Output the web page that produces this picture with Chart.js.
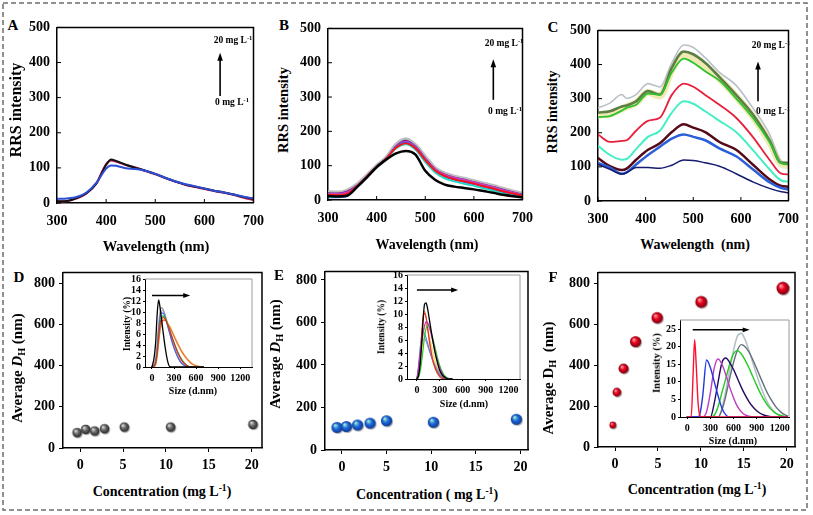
<!DOCTYPE html>
<html>
<head>
<meta charset="utf-8">
<script src="https://cdn.jsdelivr.net/npm/chart.js@4.4.1/dist/chart.umd.min.js"></script>
<style>
  body { margin: 0; background: #fff; }
  #fig { position: relative; width: 813px; height: 515px; overflow: hidden; background: #fff;
         font-family: "Liberation Serif", "Times New Roman", serif; font-weight: bold; color: #000; }
  #fig canvas { position: absolute; }
  .t { position: absolute; white-space: pre; line-height: 1; transform: translate(-50%, -50%); }
  .r { transform: translate(-50%, -50%) rotate(-90deg); }
  sup { font-size: 0.68em; line-height: 0; vertical-align: 0.55em; }
  sub { font-size: 0.68em; line-height: 0; vertical-align: -0.3em; }
  svg { position: absolute; left: 0; top: 0; }
</style>
</head>
<body>
<div id="fig">
  <svg width="813" height="515"><rect x="3" y="3" width="804" height="507" fill="none" stroke="#6c6c6c" stroke-width="1.5" stroke-dasharray="5 3"/></svg>
</div>
<script>
'use strict';

// ---------- panel A : RRS spectra ----------
let wlA = [300, 320, 340, 360, 380, 400, 410, 420, 440, 460, 480, 500, 520, 540, 560, 580, 600, 620, 640, 660, 680, 700];
let aBlack = [5, 6, 14, 28, 55, 108, 124, 120, 109, 100, 92, 83, 72, 62, 53, 47, 41, 35, 30, 24, 17, 12];
let aRed = [4, 5, 13, 27, 56, 111, 121, 118, 108, 101, 91, 82, 71, 61, 52, 46, 40, 34, 29, 23, 15, 8];
let aBlue = [12, 13, 17, 30, 57, 98, 107, 106, 99, 97, 92, 83, 72, 62, 54, 48, 41, 35, 30, 24, 18, 13];

// ---------- panel B ----------
let wlB = [300, 320, 340, 360, 380, 400, 420, 440, 460, 480, 500, 520, 540, 560, 580, 600, 620, 640, 660, 680, 700];
let bBlack = [12, 10, 13, 38, 66, 96, 118, 136, 143, 132, 85, 59, 45, 39, 35, 31, 26, 21, 15, 11, 8];
let bGray = [22, 21, 27, 44, 70, 98, 122, 160, 176, 158, 124, 92, 76, 67, 61, 54, 47, 40, 32, 24, 18];
let bPurple = [20, 19, 25, 42, 68, 97, 121, 157, 173, 156, 121, 90, 74, 65, 59, 52, 45, 38, 30, 23, 16];
let bMagenta = [18, 18, 23, 41, 68, 97, 121, 155, 170, 155, 120, 90, 74, 65, 59, 52, 45, 38, 29, 22, 15];
let bRed = [15, 14, 19, 40, 68, 97, 121, 152, 165, 150, 116, 86, 70, 60, 54, 48, 40, 33, 25, 19, 13];
let bBlue = [8, 8, 12, 38, 67, 97, 121, 153, 168, 151, 116, 85, 68, 59, 52, 46, 38, 31, 23, 17, 12];
let bCyan = [9, 9, 13, 38, 67, 96, 120, 150, 162, 146, 110, 80, 63, 54, 47, 41, 34, 27, 19, 13, 9];

// ---------- panel C ----------
let wlC = [300, 325, 350, 360, 380, 405, 430, 455, 480, 500, 525, 555, 590, 625, 660, 685, 700];
let cNavy = [107, 93, 79, 83, 98, 98, 96, 105, 120, 119, 112, 102, 80, 56, 37, 27, 24];
let cBlue = [112, 98, 80, 84, 107, 135, 159, 183, 195, 188, 178, 154, 131, 93, 55, 38, 34];
let cBrown = [126, 102, 91, 95, 121, 150, 169, 202, 225, 215, 202, 173, 150, 107, 64, 44, 42];
let cCyan = [162, 135, 121, 123, 152, 188, 206, 259, 292, 285, 263, 235, 202, 150, 93, 60, 57];
let cRed = [195, 173, 176, 178, 206, 235, 244, 311, 344, 335, 311, 282, 244, 188, 121, 80, 78];
let cGreen = [246, 249, 265, 273, 282, 315, 311, 377, 417, 405, 380, 353, 301, 244, 173, 110, 107];
let cYellow = [252, 255, 270, 276, 288, 318, 308, 384, 428, 420, 394, 358, 306, 248, 174, 108, 104];
let cOlive = [259, 263, 277, 280, 292, 322, 312, 391, 438, 430, 405, 363, 311, 254, 178, 112, 112];
let cGray = [273, 287, 312, 301, 312, 344, 334, 405, 457, 450, 420, 377, 339, 273, 197, 116, 112];

// ---------- D/E/F : average hydrodynamic diameter ----------
let dConc = [-0.3, 0.7, 1.75, 2.9, 5.2, 10.6, 20.2];
let dSize = [72, 88, 80, 91, 99, 99, 112];
let eConc = [-0.5, 0.55, 1.8, 3.2, 5.05, 10.3, 19.6];
let eSize = [104, 108, 115, 124, 135, 128, 142];
let fConc = [-0.2, 0.27, 1.05, 2.45, 4.97, 10.1, 19.6];
let fSize = [105, 266, 382, 514, 631, 709, 776];

// ---------- insets : size distributions ----------
let sizeD = [0, 30, 50, 70, 90, 110, 130, 150, 180, 210, 240, 280, 320, 360, 400, 450, 500, 550, 600, 650, 700];
let dBlack = [0, 1.8, 4.5, 9.5, 12.2, 10.8, 8.7, 6.5, 3.5, 1.2, 0.1, 0, 0, 0, 0, 0, 0, 0, 0, 0, 0];
let dGray = [0, 0.5, 1.5, 4, 7.5, 10, 10.8, 10.5, 9.3, 7.8, 6.3, 4.4, 2.8, 1.6, 0.7, 0.2, 0, 0, 0, 0, 0];
let dLav = [0, 0.4, 1.2, 3.5, 6.8, 9.3, 10.2, 10.3, 9.4, 8, 6.5, 4.6, 3, 1.8, 0.9, 0.3, 0, 0, 0, 0, 0];
let dBlue = [0, 0.3, 1, 3, 6.5, 9, 9.8, 9.8, 9, 7.6, 6.1, 4.2, 2.7, 1.5, 0.7, 0.2, 0, 0, 0, 0, 0];
let dGreen = [0, 0.2, 0.8, 2.5, 5.5, 8, 9, 9.3, 8.9, 7.9, 6.8, 5.2, 3.8, 2.5, 1.5, 0.6, 0.1, 0, 0, 0, 0];
let dRed = [0, 0.2, 0.8, 2.5, 5.3, 7.8, 8.7, 9, 8.7, 7.8, 6.7, 5.1, 3.6, 2.3, 1.3, 0.5, 0.1, 0, 0, 0, 0];
let dOrange = [0, 0.1, 0.5, 2, 4.5, 6.8, 8, 8.5, 8.5, 8, 7.3, 6.2, 5, 3.9, 2.9, 1.9, 1.1, 0.5, 0.2, 0.05, 0];
let dYellow = [0, 0.1, 0.6, 2.2, 4.8, 7, 8.2, 8.7, 8.6, 8.1, 7.4, 6.3, 5.1, 4, 3, 2, 1.2, 0.6, 0.25, 0.05, 0];

let sizeE = [0, 20, 40, 60, 80, 100, 120, 140, 160, 180, 200, 230, 260, 300, 340, 380, 420, 460];
let eBlack = [0, 0.5, 2, 5, 9, 11.5, 11.7, 10.8, 9.4, 7.9, 6.5, 4.5, 2.9, 1.3, 0.5, 0.15, 0, 0];
let eOrange = [0, 1, 3, 6.5, 9.6, 10.4, 9.6, 8, 6.2, 4.6, 3.3, 1.9, 1, 0.3, 0, 0, 0, 0];
let eRed = [0, 0.8, 2.8, 6, 9, 10.1, 9.4, 7.8, 6.1, 4.6, 3.3, 2, 1.1, 0.4, 0.05, 0, 0, 0];
let eMagenta = [0, 1.5, 3.5, 5.5, 7, 8.2, 8.8, 8.7, 8.1, 7.2, 6.2, 4.7, 3.2, 1.7, 0.7, 0.2, 0, 0];
let eGreen = [0, 0.2, 1, 2.5, 4.5, 6.5, 7.8, 8.2, 8, 7.4, 6.6, 5.2, 3.7, 2, 0.9, 0.3, 0.05, 0];
let eBlue = [0, 2, 4.5, 6.5, 7.2, 7, 6.3, 5.5, 4.6, 3.8, 3, 2.1, 1.4, 0.6, 0.2, 0, 0, 0];
let eGray = [0, 1.5, 3.5, 5.2, 6, 6.2, 5.8, 5.1, 4.4, 3.8, 3.2, 2.4, 1.7, 0.9, 0.3, 0.05, 0, 0];
let eYellow = [0, 0.5, 1.8, 4, 6.5, 8, 8.3, 7.6, 6.6, 5.5, 4.5, 3.1, 2, 0.9, 0.3, 0.05, 0, 0];

let sizeF = [0, 50, 75, 95, 115, 140, 165, 200, 250, 300, 350, 400, 450, 500, 550, 600, 650, 700, 750, 800, 850, 900, 950, 1000, 1050, 1100, 1150, 1200, 1250, 1300];
let fRed = [0, 0, 12, 22, 15, 4, 0.3, 0, 0, 0, 0, 0, 0, 0, 0, 0, 0, 0, 0, 0, 0, 0, 0, 0, 0, 0, 0, 0, 0, 0];
let fBlue = [0, 0, 0, 0, 0, 0, 1, 6, 16.2, 14, 10, 6, 2.5, 0.6, 0, 0, 0, 0, 0, 0, 0, 0, 0, 0, 0, 0, 0, 0, 0, 0];
let fMagenta = [0, 0, 0, 0, 0, 0, 0, 0, 1.5, 7, 14, 16.5, 15, 12, 8.5, 5.5, 3, 1.5, 0.6, 0.2, 0, 0, 0, 0, 0, 0, 0, 0, 0, 0];
let fPurple = [0, 0, 0, 0, 0, 0, 0, 0, 0, 0, 4, 10, 15.5, 16.8, 15.5, 13.5, 11, 8.5, 6.3, 4.4, 2.9, 1.8, 1, 0.5, 0.2, 0.05, 0, 0, 0, 0];
let fGreen = [0, 0, 0, 0, 0, 0, 0, 0, 0, 0, 0.5, 3, 7, 11, 15, 18, 18.9, 18, 16.2, 14, 11.5, 9, 6.7, 4.7, 3.1, 1.9, 1, 0.5, 0.2, 0.05];
let fDarkGray = [0, 0, 0, 0, 0, 0, 0, 0, 0, 0, 0, 0, 2, 6, 11, 15.5, 19, 20.6, 20, 18.5, 16.3, 13.8, 11.2, 8.7, 6.4, 4.5, 2.9, 1.7, 0.8, 0.3];
let fLightGray = [0, 0, 0, 0, 0, 0, 0, 0, 0, 0, 0, 0, 2.5, 7.5, 13.5, 19, 23, 23.8, 22, 19, 15.5, 12, 8.8, 6, 3.8, 2.2, 1.1, 0.5, 0.15, 0];

// tick values
let wlTicks = [300, 400, 500, 600, 700];
let rrsTicks = [0, 100, 200, 300, 400, 500];
let concTicks = [0, 5, 10, 15, 20];
let dhTicks = [0, 200, 400, 600, 800];
let insetXTicks = [0, 300, 600, 900, 1200];
let insetYTicks = [0, 2, 4, 6, 8, 10, 12, 14, 16];
let insetFTicks = [0, 5, 10, 15, 20, 25];

const FONT = 'Liberation Serif';
Chart.defaults.font.family = FONT;
Chart.defaults.font.weight = 'bold';
Chart.defaults.color = '#000';

let fig = document.getElementById('fig');

function makeCanvas(area, pad) {
  let c = document.createElement('canvas');
  let w = area.r - area.l + pad.l + pad.r;
  let h = area.b - area.t + pad.t + pad.b;
  c.width = w;
  c.height = h;
  c.style.left = (area.l - pad.l) + 'px';
  c.style.top = (area.t - pad.t) + 'px';
  c.style.width = w + 'px';
  c.style.height = h + 'px';
  fig.appendChild(c);
  return c;
}

function pts(xs, ys) {
  return xs.map((x, i) => ({ x: x, y: ys[i] }));
}

function curve(xs, ys, color, width) {
  return { data: pts(xs, ys), borderColor: color, borderWidth: width, pointRadius: 0,
           fill: false, cubicInterpolationMode: 'monotone' };
}

function axis(min, max, ticks, o) {
  return {
    type: 'linear', min: min, max: max,
    afterBuildTicks: s => { s.ticks = ticks.map(v => ({ value: v })); },
    afterFit: s => { if (s.isHorizontal()) s.height = o.size; else s.width = o.size; },
    ticks: { autoSkip: false, maxRotation: 0, padding: o.pad, color: '#000',
             font: { family: FONT, size: o.font, weight: 'bold' }, callback: v => String(v) },
    grid: { display: true, drawOnChartArea: false, drawTicks: o.tick > 0, tickLength: o.tick, color: '#000', lineWidth: 1 },
    border: { display: true, color: '#000', width: o.bw }
  };
}

// frame (top/right), inside ticks, white fill and arrow annotation
let framePlugin = {
  id: 'frame',
  beforeDraw(chart, args, o) {
    let a = chart.chartArea, ctx = chart.ctx;
    if (o.fill) {
      ctx.save();
      ctx.fillStyle = o.fill;
      ctx.fillRect(a.left, a.top, a.right - a.left, a.bottom - a.top);
      ctx.restore();
    }
  },
  afterDraw(chart, args, o) {
    let a = chart.chartArea, ctx = chart.ctx;
    ctx.save();
    ctx.strokeStyle = o.color;
    ctx.lineWidth = o.width;
    ctx.beginPath();
    ctx.moveTo(a.left, a.top);
    ctx.lineTo(a.right, a.top);
    ctx.lineTo(a.right, a.bottom);
    ctx.stroke();
    if (o.inTicks) {
      let xs = chart.scales.x, ys = chart.scales.y;
      ctx.strokeStyle = '#000';
      ctx.lineWidth = 1;
      ctx.beginPath();
      xs.ticks.forEach(t => { let x = xs.getPixelForValue(t.value); ctx.moveTo(x, a.bottom); ctx.lineTo(x, a.bottom - o.inTicks); });
      ys.ticks.forEach(t => { let y = ys.getPixelForValue(t.value); ctx.moveTo(a.left, y); ctx.lineTo(a.left + o.inTicks, y); });
      ctx.stroke();
    }
    if (o.arrow) {
      let ar = o.arrow, xs = chart.scales.x, ys = chart.scales.y;
      let x1 = xs.getPixelForValue(ar.x1), y1 = ys.getPixelForValue(ar.y1);
      let x2 = xs.getPixelForValue(ar.x2), y2 = ys.getPixelForValue(ar.y2);
      let ang = Math.atan2(y2 - y1, x2 - x1), h = ar.head, cs = Math.cos(ang), sn = Math.sin(ang);
      ctx.strokeStyle = '#000';
      ctx.fillStyle = '#000';
      ctx.lineWidth = ar.width;
      ctx.beginPath();
      ctx.moveTo(x1, y1);
      ctx.lineTo(x2 - cs * h * 0.6, y2 - sn * h * 0.6);
      ctx.stroke();
      ctx.beginPath();
      ctx.moveTo(x2, y2);
      ctx.lineTo(x2 - h * cs + h * 0.35 * sn, y2 - h * sn - h * 0.35 * cs);
      ctx.lineTo(x2 - h * cs - h * 0.35 * sn, y2 - h * sn + h * 0.35 * cs);
      ctx.closePath();
      ctx.fill();
    }
    ctx.restore();
  }
};

function drawChart(area, pad, datasets, xAxis, yAxis, frame) {
  let canvas = makeCanvas(area, pad);
  return new Chart(canvas, {
    type: 'line',
    data: { datasets: datasets },
    options: {
      responsive: false, animation: false, devicePixelRatio: 1,
      layout: { padding: { top: pad.t, right: pad.r, left: 0, bottom: 0 } },
      plugins: { legend: { display: false }, tooltip: { enabled: false }, frame: frame },
      scales: { x: xAxis, y: yAxis },
      elements: { line: { borderJoinStyle: 'round', borderCapStyle: 'round' } }
    },
    plugins: [framePlugin]
  });
}

// shaded sphere used as point style
function ball(r, edge, body, shine) {
  let c = document.createElement('canvas');
  let s = Math.ceil(r * 2 + 4);
  c.width = s;
  c.height = s;
  let g = c.getContext('2d');
  let m = s / 2 - 0.5;
  g.fillStyle = 'rgba(0,0,0,0.3)';
  g.beginPath(); g.arc(m + 1, m + 1, r, 0, Math.PI * 2); g.fill();
  let grad = g.createRadialGradient(m - r * 0.35, m - r * 0.4, r * 0.08, m, m, r);
  grad.addColorStop(0, shine);
  grad.addColorStop(0.45, body);
  grad.addColorStop(1, edge);
  g.fillStyle = grad;
  g.beginPath(); g.arc(m, m, r, 0, Math.PI * 2); g.fill();
  return c;
}

let topPad = { l: 34, r: 16, t: 10, b: 26 };
let topX = { size: 26, pad: 10, font: 14, tick: 0, bw: 1.5 };
let topY = { size: 34, pad: 7, font: 14, tick: 0, bw: 1.5 };
let mainFrame = { color: '#000', width: 1.5, inTicks: 4 };

// A
drawChart({ l: 57, t: 22, r: 258, b: 203 }, topPad, [
  curve(wlA, aBlue, '#2d4fd6', 2),
  curve(wlA, aBlack, '#111', 2),
  curve(wlA, aRed, '#c8195c', 2)
], axis(300, 700, wlTicks, topX), axis(0, 500, rrsTicks, topY),
  Object.assign({ arrow: { x1: 632, y1: 305, x2: 632, y2: 428, width: 1.6, head: 8 } }, mainFrame));

// B
drawChart({ l: 328, t: 23, r: 527, b: 200 }, topPad, [
  curve(wlB, bBlack, '#000', 2.5),
  curve(wlB, bRed, '#ff1010', 1.8),
  curve(wlB, bCyan, '#22d8c0', 1.8),
  curve(wlB, bBlue, '#3060ff', 1.8),
  curve(wlB, bMagenta, '#c040c0', 1.8),
  curve(wlB, bPurple, '#6a1a8a', 1.8),
  curve(wlB, bGray, '#bdbdbd', 4.5)
], axis(300, 700, wlTicks, topX), axis(0, 500, rrsTicks, topY),
  Object.assign({ arrow: { x1: 640, y1: 292, x2: 640, y2: 410, width: 1.6, head: 8 } }, mainFrame));

// C
drawChart({ l: 598, t: 25, r: 793, b: 201 }, topPad, [
  curve(wlC, cNavy, '#141a6e', 1.5),
  curve(wlC, cBlue, '#2b5fd8', 2.5),
  curve(wlC, cBrown, '#560a18', 2.5),
  curve(wlC, cCyan, '#44efc4', 2),
  curve(wlC, cRed, '#e8203c', 1.8),
  curve(wlC, cGreen, '#2fc22f', 1.8),
  curve(wlC, cOlive, '#5d7f45', 2.6),
  curve(wlC, cGray, '#b8c1c8', 1.6),
  curve(wlC, cYellow, '#efe9b2', 7)
], axis(300, 700, wlTicks, topX), axis(0, 500, rrsTicks, topY),
  Object.assign({ arrow: { x1: 636, y1: 292, x2: 636, y2: 409, width: 1.6, head: 8 } }, mainFrame));

// D / E / F scatter panels
let botPad = { l: 36, r: 14, t: 10, b: 26 };
let botX = { size: 26, pad: 5, font: 14, tick: 4, bw: 1.5 };
let botY = { size: 36, pad: 4, font: 14, tick: 4, bw: 1.5 };
let botFrame = { color: '#000', width: 1.5 };

let grayBall = ball(4.8, '#262626', '#6c6c6c', '#dcdcdc');
let blueBall = ball(5.6, '#0a3590', '#1f6ee0', '#a8f0c8');
let fBalls = [3.4, 4.4, 5, 5.6, 5.7, 6, 6.4].map(r => ball(r, '#7a0010', '#e6001c', '#ff9ca4'));

drawChart({ l: 63, t: 270, r: 262, b: 448 }, botPad, [
  { data: pts(dConc, dSize), showLine: false, pointRadius: 5, pointStyle: grayBall }
], axis(-2, 21.2, concTicks, botX), axis(0, 853, dhTicks, botY), botFrame);

drawChart({ l: 325, t: 269, r: 528, b: 450 }, botPad, [
  { data: pts(eConc, eSize), showLine: false, pointRadius: 5, pointStyle: blueBall }
], axis(-1.9, 20.85, concTicks, botX), axis(0, 840, dhTicks, botY), botFrame);

drawChart({ l: 598, t: 270, r: 795, b: 447 }, botPad, [
  { data: pts(fConc, fSize), showLine: false, pointRadius: 5, pointStyle: fBalls }
], axis(-1.98, 20.96, concTicks, botX), axis(0, 856, dhTicks, botY), botFrame);

// insets
let inPad = { l: 20, r: 13, t: 6, b: 18 };
let inX = { size: 18, pad: 3, font: 10, tick: 2, bw: 1 };
let inY = { size: 20, pad: 2, font: 10, tick: 2, bw: 1 };
let inFrame = { color: '#9a9a9a', width: 1, fill: '#fff' };

drawChart({ l: 145, t: 277, r: 252, b: 367 }, inPad, [
  curve(sizeD, dBlack, '#000', 1.3),
  curve(sizeD, dRed, '#e02828', 1.1),
  curve(sizeD, dGreen, '#22c022', 1.1),
  curve(sizeD, dBlue, '#4a62e0', 1.1),
  curve(sizeD, dGray, '#9a9a9a', 1.3),
  curve(sizeD, dLav, '#b6b6e0', 1.3),
  curve(sizeD, dOrange, '#ee7040', 1.3),
  curve(sizeD, dYellow, '#f2e08a', 2)
], axis(-95, 1360, insetXTicks, inX), axis(0, 16, insetYTicks, inY),
  Object.assign({ arrow: { x1: 0, y1: 13, x2: 520, y2: 13, width: 1.5, head: 7 } }, inFrame));

drawChart({ l: 407, t: 273, r: 520, b: 379 }, inPad, [
  curve(sizeE, eBlack, '#000', 1.3),
  curve(sizeE, eMagenta, '#c030c0', 1.2),
  curve(sizeE, eGreen, '#22d022', 1.2),
  curve(sizeE, eRed, '#e03030', 1.1),
  curve(sizeE, eOrange, '#f08a3a', 1.2),
  curve(sizeE, eBlue, '#5a78e0', 1.1),
  curve(sizeE, eGray, '#a0a0a0', 1.1),
  curve(sizeE, eYellow, '#f2e27a', 1.6)
], axis(-130, 1350, insetXTicks, inX), axis(0, 16, insetYTicks, inY),
  Object.assign({ arrow: { x1: 0, y1: 13.7, x2: 540, y2: 13.7, width: 1.5, head: 7 } }, inFrame));

drawChart({ l: 680, t: 318, r: 789, b: 417 }, inPad, [
  curve(sizeF, fRed, '#ff1030', 1.4),
  curve(sizeF, fBlue, '#2038e0', 1.4),
  curve(sizeF, fMagenta, '#c03cc0', 1.4),
  curve(sizeF, fPurple, '#22085e', 1.4),
  curve(sizeF, fGreen, '#22cc22', 1.4),
  curve(sizeF, fDarkGray, '#607078', 1.4),
  curve(sizeF, fLightGray, '#b4c2c8', 1.6)
], axis(-95, 1320, insetXTicks, inX), axis(0, 27.6, insetFTicks, inY),
  Object.assign({ arrow: { x1: 70, y1: 24.8, x2: 810, y2: 24.8, width: 1.5, head: 7 } }, inFrame));

// text: [html, centre x, centre y, size, rotated]
let mgL = 'mg L<sup>-1</sup>';
let texts = [
  ['A', 13, 25, 15], ['B', 284, 25, 15], ['C', 553, 27, 15],
  ['D', 19, 277, 15], ['E', 279, 275, 15], ['F', 553, 277, 15],
  ['RRS intensity', 16, 110, 16, 1], ['RRS intensity', 283, 110, 14.5, 1], ['RRS intensity', 553, 112, 14, 1],
  ['Wavelength (nm)', 156, 246, 14.5], ['Wavelength (nm)', 427, 245, 14], ['Wawelength  (nm)', 695, 245, 14],
  ['20 ' + mgL, 233, 41, 9.5], ['0 ' + mgL, 232, 103, 9.5],
  ['20 ' + mgL, 504, 44, 9.5], ['0 ' + mgL, 505, 112, 9.5],
  ['20 ' + mgL, 771, 46, 9.5], ['0 ' + mgL, 773, 112, 9.5],
  ['Average <i>D</i><sub>H</sub> (nm)', 17, 368, 15, 1],
  ['Average <i>D</i><sub>H</sub> (nm)', 275, 354, 15, 1],
  ['Average D<sub>H</sub>  (nm)', 548, 378, 15, 1],
  ['Concentration (' + mgL + ')', 162, 492, 14],
  ['Concentration ( ' + mgL + ')', 427, 495, 14],
  ['Concentration (' + mgL + ')', 697, 490, 14],
  ['Intensity (%)', 128, 324, 9.5, 1], ['Intensity (%)', 382, 327, 9.5, 1], ['Intensity (%)', 657, 363, 10.5, 1],
  ['Size (d.nm)', 193, 391, 10], ['Size (d.nm)', 464, 404, 10], ['Size (d.nm)', 733, 441, 10]
];
texts.forEach(t => {
  let d = document.createElement('div');
  d.className = t[4] ? 't r' : 't';
  d.innerHTML = t[0];
  d.style.left = t[1] + 'px';
  d.style.top = t[2] + 'px';
  d.style.fontSize = t[3] + 'px';
  fig.appendChild(d);
});
</script>
</body>
</html>
